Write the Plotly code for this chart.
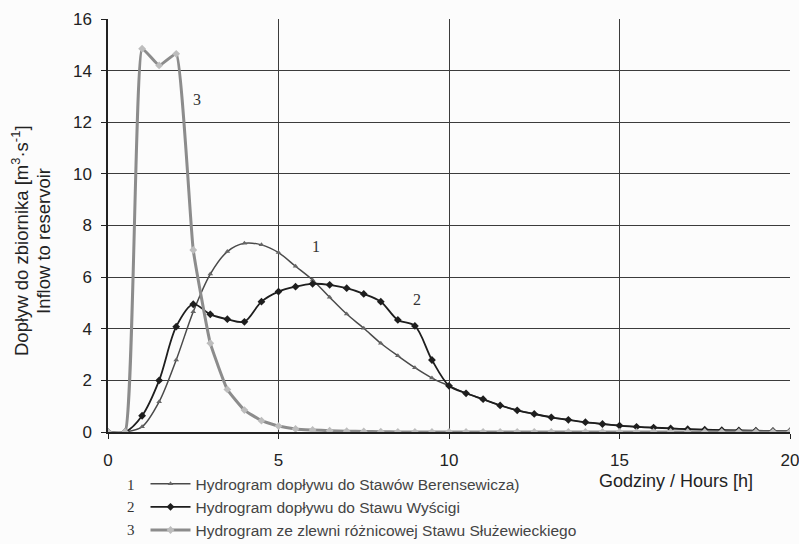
import plotly.graph_objects as go

hours = [0, 0.5, 1, 1.5, 2, 2.5, 3, 3.5, 4, 4.5, 5, 5.5, 6, 6.5, 7, 7.5, 8, 8.5, 9, 9.5,
         10, 10.5, 11, 11.5, 12, 12.5, 13, 13.5, 14, 14.5, 15, 15.5, 16, 16.5, 17, 17.5,
         18, 18.5, 19, 19.5, 20]

berensewicza = [0, 0, 0.2, 1.17, 2.79, 4.66, 6.12, 6.99, 7.31, 7.25, 6.95, 6.42, 5.89, 5.22,
                4.57, 4.02, 3.44, 2.95, 2.49, 2.09, 1.79, 1.5, 1.27, 1.03, 0.84, 0.7, 0.57,
                0.47, 0.38, 0.31, 0.25, 0.2, 0.17, 0.14, 0.11, 0.09, 0.07, 0.06, 0.05, 0.04, 0.03]

wyscigi = [0, 0, 0.63, 2.0, 4.08, 4.95, 4.56, 4.37, 4.27, 5.05, 5.44, 5.63, 5.74, 5.70, 5.57,
           5.35, 5.05, 4.34, 4.11, 2.79, 1.79, 1.5, 1.27, 1.03, 0.84, 0.7, 0.57, 0.47, 0.38,
           0.31, 0.25, 0.2, 0.17, 0.14, 0.11, 0.09, 0.07, 0.06, 0.05, 0.04, 0.03]

sluzewiecki = [0, 0, 14.85, 14.2, 14.65, 7.05, 3.44, 1.65, 0.85, 0.44, 0.23, 0.12, 0.08, 0.05,
               0.03, 0.02, 0.01, 0, 0, 0, 0, 0, 0, 0, 0, 0, 0, 0, 0, 0, 0, 0, 0, 0, 0, 0,
               0, 0, 0, 0, 0]

names = ["Hydrogram dopływu do Stawów Berensewicza)",
         "Hydrogram dopływu do Stawu Wyścigi",
         "Hydrogram ze zlewni różnicowej Stawu Służewieckiego"]

fig = go.Figure()
fig.add_trace(go.Scatter(
    x=hours, y=berensewicza, name=names[0], mode="lines+markers",
    line=dict(color="#4a4a4a", width=1.5, shape="spline", smoothing=0.9),
    marker=dict(symbol="triangle-up", size=5, color="#666666"),
    legendgroup="g1"))
fig.add_trace(go.Scatter(
    x=hours, y=wyscigi, name=names[1], mode="lines+markers",
    line=dict(color="#1e1e1e", width=1.8, shape="spline", smoothing=0.9),
    marker=dict(symbol="diamond", size=6, color="#1e1e1e"),
    legendgroup="g2"))
fig.add_trace(go.Scatter(
    x=hours, y=sluzewiecki, name=names[2], mode="lines+markers",
    line=dict(color="#8c8c8c", width=3, shape="spline", smoothing=0.35),
    marker=dict(symbol="diamond", size=6, color="#bdbdbd"),
    legendgroup="g3"))

grid = "#3c3c3c"
fig.update_layout(
    width=799, height=544,
    margin=dict(l=108, r=9, t=19, b=112, autoexpand=False),
    paper_bgcolor="#fcfcfc", plot_bgcolor="#fcfcfc",
    font=dict(family="Liberation Sans, Arial, sans-serif", color="#222222", size=17),
    showlegend=True,
    legend=dict(x=0.055, y=-0.085, xanchor="left", yanchor="top",
                traceorder="grouped", tracegroupgap=0,
                bgcolor="rgba(0,0,0,0)",
                font=dict(size=15.5, color="#444444", family="Liberation Sans, Arial, sans-serif"),
                itemwidth=40),
    xaxis=dict(range=[0, 20], tickvals=[0, 5, 10, 15, 20], showgrid=True, gridcolor=grid,
               gridwidth=1, zeroline=False, showline=True, linecolor="#222222", linewidth=1.5,
               ticks="outside", ticklen=5, tickcolor="#222222", mirror=False,
               ticklabeloverflow="allow", ticklabelstandoff=7,
               tickfont=dict(size=17)),
    yaxis=dict(range=[0, 16], dtick=2, showgrid=True, gridcolor=grid, gridwidth=1,
               zeroline=False, showline=True, linecolor="#222222", linewidth=1.5,
               ticks="outside", ticklen=5, tickcolor="#222222", ticklabelstandoff=6,
               tickfont=dict(size=17)),
)

annotations = [
    dict(x=2.6, y=12.9, xref="x", yref="y", text="3", showarrow=False,
         font=dict(family="Liberation Serif, serif", size=16, color="#333333")),
    dict(x=6.1, y=7.2, xref="x", yref="y", text="1", showarrow=False,
         font=dict(family="Liberation Serif, serif", size=16, color="#333333")),
    dict(x=9.05, y=5.15, xref="x", yref="y", text="2", showarrow=False,
         font=dict(family="Liberation Serif, serif", size=16, color="#333333")),
    dict(x=(597 - 108) / 682, y=(432 - 481) / 413, xref="paper", yref="paper", xanchor="left",
         yanchor="middle", text="Godziny / Hours [h]", showarrow=False,
         font=dict(size=18, color="#222222")),
]
# y-axis title lines
for txt, px in [("Dopływ do zbiornika [m<sup>3</sup>·s<sup>-1</sup>]", 20),
                ("Inflow to reservoir", 43)]:
    annotations.append(dict(x=(px - 108) / 682, y=(432 - 241) / 413, xref="paper", yref="paper",
                            xanchor="center", yanchor="middle",
                            text=txt, textangle=-90, showarrow=False,
                            font=dict(size=18.5, color="#222222")))
for num, py in [("1", 485), ("2", 507), ("3", 530)]:
    annotations.append(dict(x=(131 - 108) / 682, y=(432 - py) / 413, xref="paper", yref="paper",
                            xanchor="center", yanchor="middle",
                            text=num, showarrow=False,
                            font=dict(family="Liberation Serif, serif", size=15, color="#333333")))
fig.update_layout(annotations=annotations)

fig.write_html("out.html")
